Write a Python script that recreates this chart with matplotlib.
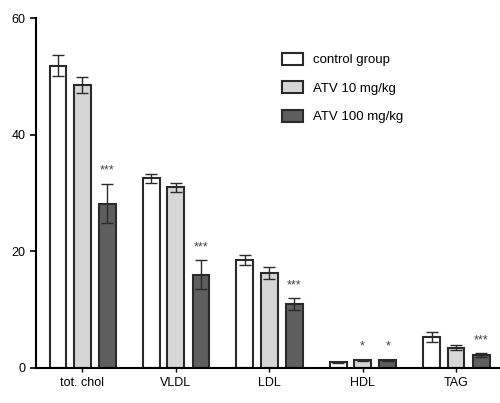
import numpy as np
import matplotlib
matplotlib.use("Agg")
import matplotlib.pyplot as plt

plt.rcParams['font.family'] = ['Liberation Sans', 'DejaVu Sans']

# Data
categories = ["tot. chol", "VLDL", "LDL", "HDL", "TAG"]
groups = ["control group", "ATV 10 mg/kg", "ATV 100 mg/kg"]
control = [51.8, 32.5, 18.5, 1.0, 5.3]
control_err = [1.8, 0.8, 0.8, 0.1, 0.8]
atv10 = [48.5, 31.0, 16.3, 1.3, 3.5]
atv10_err = [1.4, 0.8, 1.0, 0.1, 0.4]
atv100 = [28.2, 16.0, 11.0, 1.3, 2.2]
atv100_err = [3.4, 2.5, 1.0, 0.1, 0.3]
sig10 = ["", "", "", "*", ""]
sig100 = ["***", "***", "***", "*", "***"]

colors = ["white", "#d6d6d6", "#5e5e5e"]
edge = "#2a2a2a"

fig = plt.figure(figsize=(5, 4.03), dpi=100)
ax = fig.add_axes([0.072, 0.087, 0.928, 0.868])

x = np.arange(len(categories))
width = 0.18
offsets = [-0.26, 0.0, 0.27]
series = [(control, control_err), (atv10, atv10_err), (atv100, atv100_err)]

for i, (vals, errs) in enumerate(series):
    ax.bar(x + offsets[i], vals, width, yerr=errs, color=colors[i],
           edgecolor=edge, linewidth=1.5, label=groups[i],
           error_kw=dict(ecolor=edge, elinewidth=1.0, capsize=4, capthick=1.0))

# significance marks
for i in range(len(categories)):
    if sig10[i]:
        ax.text(x[i] + offsets[1], atv10[i] + atv10_err[i] + 1.2, sig10[i],
                ha="center", va="bottom", fontsize=9, color="#444444")
    if sig100[i]:
        ax.text(x[i] + offsets[2], atv100[i] + atv100_err[i] + 1.2, sig100[i],
                ha="center", va="bottom", fontsize=9, color="#444444")

ax.set_xlim(-0.495, 4.47)
ax.set_ylim(0, 60)
ax.set_yticks([0, 20, 40, 60])
ax.set_xticks(x)
ax.set_xticklabels(categories, fontsize=9)
ax.tick_params(axis="y", labelsize=9, length=4, width=1.2, direction="out")
ax.tick_params(axis="x", length=3, width=1.0, direction="out")
ax.spines["top"].set_visible(False)
ax.spines["right"].set_visible(False)
ax.spines["left"].set_linewidth(1.5)
ax.spines["bottom"].set_linewidth(1.5)

ax.legend(loc="upper left", bbox_to_anchor=(0.505, 0.935), frameon=False,
          fontsize=9.5, handlelength=1.6, handleheight=1.0, labelspacing=1.15,
          handletextpad=0.7)

plt.savefig("out.png", dpi=100)
